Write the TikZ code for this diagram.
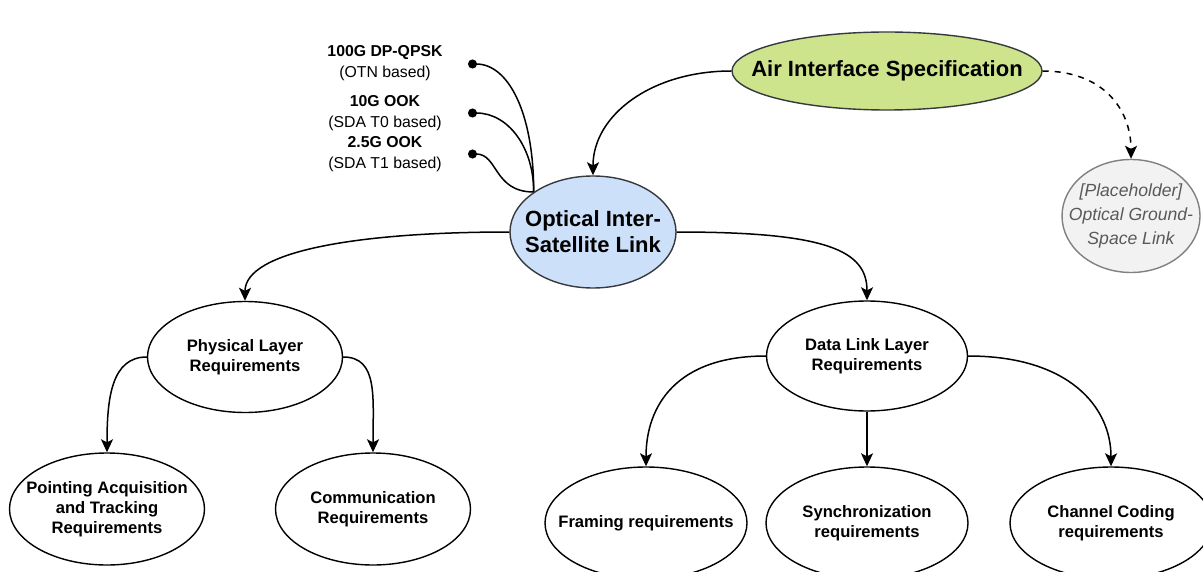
\documentclass[tikz,border=0pt]{standalone}
\usepackage{fontspec}
\setmainfont{Liberation Sans}
\definecolor{airgreen}{HTML}{CDE38C}
\definecolor{islblue}{HTML}{CCE0FA}
\definecolor{ghostgray}{HTML}{F2F2F2}
\definecolor{edgegray}{HTML}{36393D}
\definecolor{ghosttext}{HTML}{595959}
\usetikzlibrary{shapes.geometric, arrows.meta, positioning}

\begin{document}
\begin{tikzpicture}[x=0.5pt, y=-0.5pt,
    topic/.style={ellipse, draw=edgegray, line width=0.7pt, inner xsep=-14pt, inner ysep=0pt, align=center},
    req/.style={ellipse, draw=black, line width=0.7pt, fill=white, inner xsep=-12pt, inner ysep=0pt, align=center,
      font=\fontsize{8.3}{10}\selectfont\bfseries},
    ratelabel/.style={align=center, inner sep=0pt, font=\fontsize{7.9}{10.5}\selectfont},
    link/.style={line width=0.75pt, -{Stealth[length=6.5pt, width=6pt, inset=1.5pt]}},
    tap/.style={line width=0.75pt, {Circle[length=4.5pt]}-}]
  \useasboundingbox (0,0) rectangle (1203,572);

  % Top level
  \node[topic, fill=airgreen, minimum width=155pt, minimum height=39pt,
    font=\fontsize{11}{13}\selectfont\bfseries] (air) at (887,71) {Air Interface Specification};
  \node[topic, fill=islblue, minimum width=83pt, minimum height=56pt,
    font=\fontsize{11}{13}\selectfont\bfseries] (isl) at (593,232) {Optical Inter-\\Satellite Link};
  \node[topic, draw=gray, fill=ghostgray, text=ghosttext, minimum width=69pt, minimum height=56.5pt,
    font=\fontsize{8.8}{12}\selectfont\itshape] (gsl) at (1131,216) {[Placeholder]\\Optical Ground-\\Space Link};

  % Line rates
  \node[ratelabel] (rate1) at (385,63) {\textbf{100G DP-QPSK}\\(OTN based)};
  \node[ratelabel] (rate2) at (385,113) {\textbf{10G OOK}\\(SDA T0 based)};
  \node[ratelabel] (rate3) at (385,154) {\textbf{2.5G OOK}\\(SDA T1 based)};
  \coordinate (dot1) at (468,64);
  \coordinate (dot2) at (468,113);
  \coordinate (dot3) at (468,154);

  % Layers
  \node[req, minimum width=97.5pt, minimum height=55.5pt] (phy) at (245,357) {Physical Layer\\Requirements};
  \node[req, minimum width=100.5pt, minimum height=55pt] (dll) at (867,356) {Data Link Layer\\Requirements};

  % Requirements
  \node[req, minimum width=97.5pt, minimum height=56pt] (pat) at (107,509) {Pointing Acquisition\\and Tracking\\Requirements};
  \node[req, minimum width=97.5pt, minimum height=56pt] (comm) at (373,509) {Communication\\Requirements};
  \node[req, minimum width=101pt, minimum height=56pt] (fram) at (646,523) {Framing requirements};
  \node[req, minimum width=101pt, minimum height=56pt] (sync) at (867,523) {Synchronization\\requirements};
  \node[req, minimum width=101pt, minimum height=56pt] (chan) at (1111,523) {Channel Coding\\requirements};

  % Connectors
  \draw[link] (air.west) .. controls +(-80,0) and +(0,-60) .. (isl.north);
  \draw[link, dashed] (air.east) .. controls +(60,0) and +(0,-50) .. (gsl.north);
  \draw[tap] (dot1) .. controls +(40,0) and +(0,-80) .. (isl.146);
  \draw[tap] (dot2) .. controls +(40,0) and +(0,-45) .. (isl.146);
  \draw[tap] (dot3) .. controls +(30,0) and +(-40,0) .. (isl.146);
  \draw[link] (isl.west) .. controls +(-150,0) and +(0,-50) .. (phy.north);
  \draw[link] (isl.east) .. controls +(150,0) and +(0,-50) .. (dll.north);
  \draw[link] (phy.west) .. controls +(-35,0) and +(0,-55) .. (pat.north);
  \draw[link] (phy.east) .. controls +(35,0) and +(0,-55) .. (comm.north);
  \draw[link] (dll.west) .. controls +(-90,0) and +(0,-60) .. (fram.north);
  \draw[link] (dll.south) -- (sync.north);
  \draw[link] (dll.east) .. controls +(100,0) and +(0,-60) .. (chan.north);
\end{tikzpicture}
\end{document}
